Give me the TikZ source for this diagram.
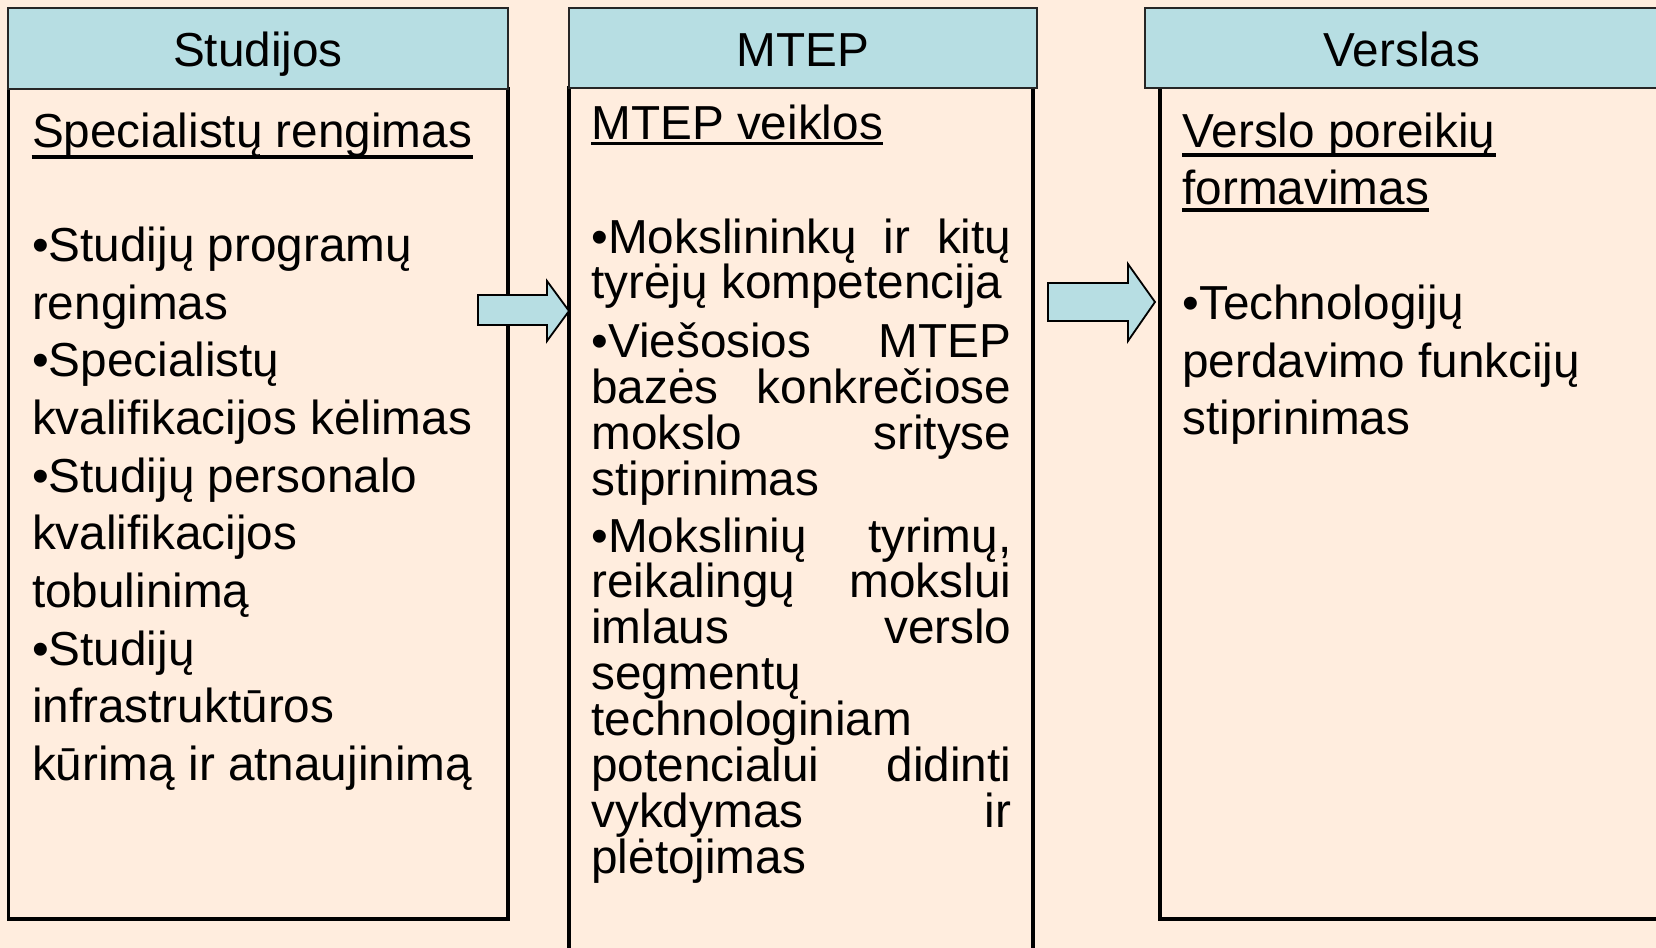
\documentclass[tikz,border=0pt]{standalone}
\usepackage{fontspec}
\setmainfont{Liberation Sans}
\setlength{\parindent}{0pt}
\definecolor{bg}{RGB}{255,237,222}
\definecolor{hdr}{RGB}{183,222,227}
\begin{document}
\begin{tikzpicture}[x=0.5pt,y=-0.5pt,
  hdrbox/.style={fill=hdr, draw=black!85, line width=1pt},
  bodybox/.style={fill=bg, draw=black, line width=1.6pt},
  bottomline/.style={draw=black, line width=2.3pt},
  txt/.style={anchor=base west, inner sep=0pt, font=\fontsize{23.85}{28}\selectfont},
  jtxt/.style={txt, text width=210pt},
  hdrtxt/.style={anchor=base, inner sep=0pt, font=\fontsize{23.85}{28}\selectfont},
  ul/.style={line width=1.8pt},
  blockarrow/.style={fill=hdr, draw=black, line width=0.9pt, line join=miter}]
\useasboundingbox (0,0) rectangle (1656,948);
\clip (0,0) rectangle (1656,948);
\fill[bg] (0,0) rectangle (1656,948);

% Box 1: Studijos
\draw[bodybox] (8.4,88.7) rectangle (508,919);
\draw[bottomline] (8.4,919) -- (508,919);
\draw[hdrbox] (8.4,8.4) rectangle (508,88.7);
\node[hdrtxt] (h1) at (258,66) {Studijos};

% Box 2: MTEP
\draw[bodybox] (569,87.6) rectangle (1033,1000);
\draw[hdrbox] (569,8.4) rectangle (1037,87.6);
\node[hdrtxt] (h2) at (803,66) {MTEP};

% Box 3: Verslas
\draw[bodybox] (1160,87.6) rectangle (1720,919);
\draw[bottomline] (1160,919) -- (1720,919);
\draw[hdrbox] (1145,8.4) rectangle (1659,87.6);
\node[hdrtxt] (h3) at (1402,66) {Verslas};

% Block arrows
\draw[blockarrow] (478,295) -- (547,295) -- (547,281) -- (569,311) -- (547,341) -- (547,325) -- (478,325) -- cycle;
\draw[blockarrow] (1048,283) -- (1128,283) -- (1128,264) -- (1155,302) -- (1128,341) -- (1128,321) -- (1048,321) -- cycle;

% Box 1 text
\node[txt] (s1) at (31.7,147) {Specialistų rengimas};
\draw[ul] ([yshift=-5pt]s1.base west) -- ([yshift=-5pt]s1.base east);
\node[txt] (s2) at (31.7,261.5) {•Studijų programų};
\node[txt] (s3) at (31.7,319.5) {rengimas};
\node[txt] (s4) at (31.7,376.5) {•Specialistų};
\node[txt] (s5) at (31.7,434.5) {kvalifikacijos kėlimas};
\node[txt] (s6) at (31.7,492.5) {•Studijų personalo};
\node[txt] (s7) at (31.7,549.5) {kvalifikacijos};
\node[txt] (s8) at (31.7,607.5) {tobulinimą};
\node[txt] (s9) at (31.7,665.5) {•Studijų};
\node[txt] (s10) at (31.7,722.5) {infrastruktūros};
\node[txt] (s11) at (31.7,780.5) {kūrimą ir atnaujinimą};

% Box 2 text
\node[txt] (m1) at (591,139) {MTEP veiklos};
\draw[ul] ([yshift=-2.3pt]m1.base west) -- ([yshift=-2.3pt]m1.base east);
\node[jtxt] (m2) at (591,253) {•Mokslininkų\hfill ir\hfill kitų};
\node[txt] (m3) at (591,298) {tyrėjų kompetencija};
\node[jtxt] (m4) at (591,357) {•Viešosios\hfill MTEP};
\node[jtxt] (m5) at (591,403) {bazės\hfill konkrečiose};
\node[jtxt] (m6) at (591,449) {mokslo\hfill srityse};
\node[txt] (m7) at (591,495) {stiprinimas};
\node[jtxt] (m8) at (591,552) {•Mokslinių\hfill tyrimų,};
\node[jtxt] (m9) at (591,597) {reikalingų\hfill mokslui};
\node[jtxt] (m10) at (591,643) {imlaus\hfill verslo};
\node[txt] (m11) at (591,689) {segmentų};
\node[txt] (m12) at (591,735) {technologiniam};
\node[jtxt] (m13) at (591,781) {potencialui\hfill didinti};
\node[jtxt] (m14) at (591,827) {vykdymas\hfill ir};
\node[txt] (m15) at (591,873) {plėtojimas};

% Box 3 text
\node[txt] (v1) at (1182,147) {Verslo poreikių};
\draw[ul] ([yshift=-4pt]v1.base west) -- ([yshift=-4pt]v1.base east);
\node[txt] (v2) at (1182,204) {formavimas};
\draw[ul] ([yshift=-3pt]v2.base west) -- ([yshift=-3pt]v2.base east);
\node[txt] (v3) at (1182,319) {•Technologijų};
\node[txt] (v4) at (1182,377) {perdavimo funkcijų};
\node[txt] (v5) at (1182,434) {stiprinimas};
\end{tikzpicture}
\end{document}
